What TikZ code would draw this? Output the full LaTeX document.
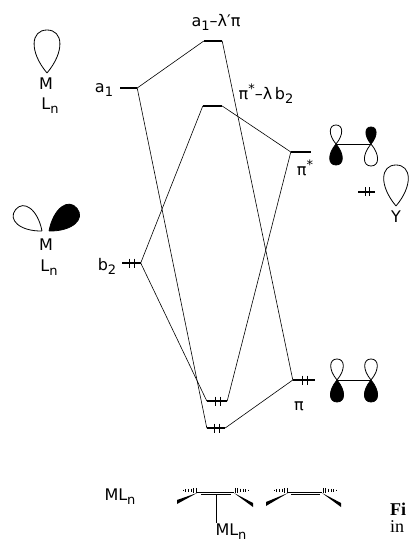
\documentclass[tikz,border=0pt]{standalone}
\usepackage{fontspec}
\setsansfont{DejaVu Sans}
\newfontfamily\capfont{Liberation Serif}
\usetikzlibrary{positioning}
\tikzstyle{level} = [fill=black, inner sep=0pt, minimum height=2.6pt]
\tikzstyle{conn} = [line width=0.6pt]
\tikzstyle{tick} = [line width=0.9pt]
\tikzstyle{lab} = [font=\fontsize{16}{18}\selectfont\sffamily, inner sep=1pt]
\newcommand{\lowidx}[1]{\raisebox{-4pt}{\fontsize{13}{13}\selectfont #1}}
\newcommand{\highidx}[1]{\raisebox{6pt}{\fontsize{13}{13}\selectfont #1}}
% tip x, tip y, rotation, length, fill
\newcommand{\lobe}[5]{\draw[line width=0.8pt, fill=#5, shift={(#1,#2)}, rotate=#3, scale=#4]
  (0,0) .. controls (-0.42,-0.5) and (-0.38,-1) .. (0,-1) .. controls (0.38,-1) and (0.42,-0.5) .. (0,0);}
\newcommand{\pair}[1]{\draw[tick] ([xshift=-1.5pt]#1.center) ++(0,-4.5) -- ++(0,9)
  ([xshift=3pt]#1.center) ++(0,-4.5) -- ++(0,9);}
% carbon x, y, direction (-1 left, 1 right)
\newcommand{\hashes}[3]{\foreach \i in {0,...,5}
  \draw[line width=0.5pt] ({#1+#3*(1+2.6*\i)},{#2-2.6+0.35*\i}) -- ++(0,{5.2-0.7*\i});}
\newcommand{\boldwedge}[4]{\fill (#1,#2) -- (#3,{#4-2}) -- (#3,{#4+2}) -- cycle;}

\begin{document}
\begin{tikzpicture}[x=1pt, y=-1pt]
	\useasboundingbox (0,0) rectangle (409,545);

	% levels
	\node[level, minimum width=17pt] (a1) at (128.5,88) {};
	\node[level, minimum width=19pt] (b2) at (131,263) {};
	\node[level, minimum width=18pt] (mixa) at (213,41) {};
	\node[level, minimum width=19pt] (mixb) at (212.5,106) {};
	\node[level, minimum width=20pt] (pistar) at (301,152) {};
	\node[level, minimum width=22pt] (pi) at (304,380) {};
	\node[level, minimum width=20pt] (low1) at (217,401) {};
	\node[level, minimum width=18pt] (low2) at (216,428) {};
	\node[level, minimum width=17pt] (ylev) at (366.5,192) {};
	\pair{b2} \pair{pi} \pair{low1} \pair{low2} \pair{ylev}

	\draw[conn] (a1.east) -- (mixa.west);
	\draw[conn] (a1.east) -- (low2.west);
	\draw[conn] (mixa.east) -- (pi.west);
	\draw[conn] (mixb.west) -- (b2.east);
	\draw[conn] (mixb.east) -- (pistar.west);
	\draw[conn] (pistar.west) -- (low1.east);
	\draw[conn] (b2.east) -- (low1.west);
	\draw[conn] (pi.west) -- (low2.east);

	% labels
	\node[lab] (la1) at (104,90) {a\lowidx{1}};
	\node[lab] (lb2) at (107,266) {b\lowidx{2}};
	\node[lab] (lmixa) at (216,22) {a\lowidx{1}–λ′π};
	\node[lab] (lmixb) at (266,94) {π\highidx{*}–λ\,b\lowidx{2}};
	\node[lab] (lpistar) at (305,168) {π\highidx{*}};
	\node[lab] (lpi) at (299,406) {π};

	% fragment orbitals
	\lobe{47}{73}{0}{43}{white}
	\node[lab] (m1) at (46,84) {M};
	\node[lab] (ln1) at (50,106) {L\lowidx{n}};
	\lobe{42}{231}{51}{34}{white}
	\lobe{49}{231}{-51}{36}{black}
	\node[lab] (m2) at (46,245) {M};
	\node[lab] (ln2) at (49,268) {L\lowidx{n}};

	\draw[line width=0.8pt] (336,144) -- (371,144);
	\lobe{336}{144}{0}{19}{white}
	\lobe{336}{144}{180}{21}{black}
	\lobe{371}{144}{0}{17}{black}
	\lobe{371}{144}{180}{22}{white}

	\draw[line width=0.8pt] (337,380) -- (371,380);
	\lobe{337}{380}{0}{21}{white}
	\lobe{337}{380}{180}{22}{black}
	\lobe{371}{380}{0}{21}{white}
	\lobe{371}{380}{180}{22}{black}

	\lobe{396}{206}{0}{41}{white}
	\node[lab] (y) at (396,217) {Y};

	% bottom structures
	\node[lab] (mla) at (120,497) {ML\lowidx{n}};
	\draw[line width=0.8pt] (197,492) -- (234,492) (201,494.5) -- (231,494.5);
	\hashes{197}{490.5}{-1} \hashes{234}{490.5}{1}
	\boldwedge{197}{493}{177}{502}
	\boldwedge{234}{493}{253}{505}
	\coordinate (cc) at (216,495);
	\node[lab] (mlb) at (231,532) {ML\lowidx{n}};
	\draw[line width=0.8pt] (cc) -- (cc |- mlb.north);

	\draw[line width=0.8pt] (288,492) -- (322,492) (291,494.5) -- (320,494.5);
	\hashes{288}{490.5}{-1} \hashes{322}{490.5}{1}
	\boldwedge{288}{493}{266}{504}
	\boldwedge{322}{493}{341}{505}

	\node[anchor=west, inner sep=0pt, font=\fontsize{18}{20}\selectfont\capfont\bfseries] (fig) at (390,509) {Fi};
	\node[anchor=west, inner sep=0pt, font=\fontsize{18}{20}\selectfont\capfont] (ing) at (390,527) {in};
\end{tikzpicture}
\end{document}
